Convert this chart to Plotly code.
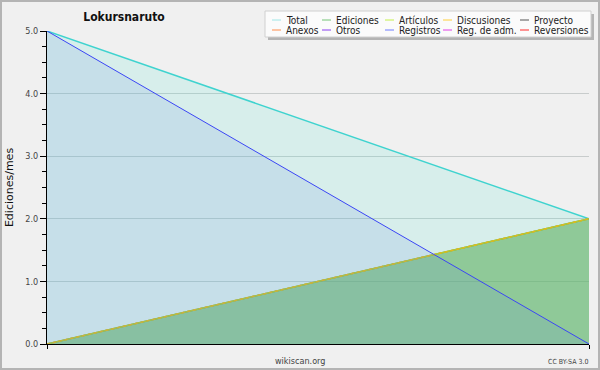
import plotly.graph_objects as go

# ---------------- data ----------------
months = [0, 1]
total = [5.0, 2.0]
ediciones = [0.0, 2.0]
articulos = [0.0, 2.0]
discusiones = [0.0, 2.0]
registros = [5.0, 0.0]

y_ticks = [0, 1, 2, 3, 4, 5]
y_tick_labels = ["0.0", "1.0", "2.0", "3.0", "4.0", "5.0"]

legend_names = [
    ["Total", "Anexos"],
    ["Ediciones", "Otros"],
    ["Artículos", "Registros"],
    ["Discusiones", "Reg. de adm."],
    ["Proyecto", "Reversiones"],
]
legend_colors = [
    ["#9ee6e6", "#ff8c4a"],
    ["#74c476", "#8a3ff0"],
    ["#c4f04a", "#6f7dff"],
    ["#ffcf3a", "#e23ee8"],
    ["#555555", "#ff2a2a"],
]

title_text = "Lokursnaruto"
y_title = "Ediciones/mes"
site_text = "wikiscan.org"
license_text = "CC BY-SA 3.0"

# ---------------- layout helpers ----------------
W, H = 600, 370
L, R, T, B = 47, 11, 31, 26
PW, PH = W - L - R, H - T - B
FONT = "DejaVu Sans Condensed, DejaVu Sans, sans-serif"


def px(x):
    return (x - L) / PW


def py(y):
    return (H - B - y) / PH


fig = go.Figure()

fig.add_trace(go.Scatter(
    x=months, y=total, name="Total", mode="lines",
    line=dict(color="#3fd3cf", width=1.5),
    fill="tozeroy", fillcolor="rgba(64,224,208,0.14)", showlegend=False))
fig.add_trace(go.Scatter(
    x=months, y=ediciones, name="Ediciones", mode="lines",
    line=dict(color="#5fb060", width=1.5),
    fill="tozeroy", fillcolor="rgba(95,177,96,0.6)", showlegend=False))
fig.add_trace(go.Scatter(
    x=months, y=articulos, name="Artículos", mode="lines",
    line=dict(color="#b8c830", width=1.5), showlegend=False))
fig.add_trace(go.Scatter(
    x=months, y=discusiones, name="Discusiones", mode="lines",
    line=dict(color="#e0b820", width=1.5, dash="dot"), showlegend=False))
fig.add_trace(go.Scatter(
    x=months, y=registros, name="Registros", mode="lines",
    line=dict(color="#3b46f5", width=1),
    fill="tozeroy", fillcolor="rgba(100,140,220,0.15)", showlegend=False))

shapes = []
annotations = []

# figure border
shapes.append(dict(type="rect", xref="paper", yref="paper",
                   x0=px(1), x1=px(599), y0=py(1), y1=py(369),
                   line=dict(color="#b4b4b4", width=2), fillcolor="rgba(0,0,0,0)",
                   layer="below"))

# legend box with shadow
shapes.append(dict(type="rect", xref="paper", yref="paper",
                   x0=px(268), x1=px(594), y0=py(14), y1=py(40),
                   line=dict(width=0), fillcolor="#b4b4b4"))
shapes.append(dict(type="rect", xref="paper", yref="paper",
                   x0=px(265), x1=px(591), y0=py(11), y1=py(37),
                   line=dict(color="#d0d0d0", width=1), fillcolor="#fbfbfb"))

col_text_x = [284, 334, 397, 455, 532]
row_y = [20, 30]
for c, (names, colors) in enumerate(zip(legend_names, legend_colors)):
    for r, (nm, colr) in enumerate(zip(names, colors)):
        tx = col_text_x[c]
        yy = row_y[r]
        shapes.append(dict(type="line", xref="paper", yref="paper",
                           x0=px(tx - 12), x1=px(tx - 3), y0=py(yy), y1=py(yy),
                           line=dict(color=colr, width=1)))
        annotations.append(dict(text=nm, xref="paper", yref="paper",
                                x=px(tx), y=py(yy), xanchor="left", yanchor="middle",
                                showarrow=False,
                                font=dict(family=FONT, size=10, color="#222222")))

annotations.append(dict(text=site_text, xref="paper", yref="paper",
                        x=px(300), y=py(361), xanchor="center", yanchor="middle",
                        showarrow=False, font=dict(family=FONT, size=9, color="#444444")))
annotations.append(dict(text=license_text, xref="paper", yref="paper",
                        x=px(590), y=py(362), xanchor="right", yanchor="middle",
                        showarrow=False, font=dict(family=FONT, size=7, color="#444444")))

fig.update_layout(
    width=W, height=H,
    margin=dict(l=L, r=R, t=T, b=B, pad=0, autoexpand=False),
    paper_bgcolor="#f0f0f0",
    plot_bgcolor="#f0f0f0",
    showlegend=False,
    title=dict(text=title_text, x=124 / W, y=1 - 16.5 / H, xref="container", yref="container",
               xanchor="center", yanchor="middle",
               font=dict(family=FONT, size=12, color="#111111", weight="bold")),
    shapes=shapes,
    annotations=annotations,
    xaxis=dict(range=[0, 1], showgrid=False, zeroline=False, automargin=False,
               showline=True, linecolor="#000000", linewidth=1,
               tickmode="array", tickvals=months, ticktext=["", ""],
               ticks="outside", ticklen=4, tickcolor="#000000"),
    yaxis=dict(range=[0, 5], zeroline=False, automargin=False,
               showline=True, linecolor="#000000", linewidth=1,
               tickmode="array", tickvals=y_ticks, ticktext=y_tick_labels,
               ticks="outside", ticklen=6, tickcolor="#000000",
               tickfont=dict(family=FONT, size=9, color="#444444"),
               showgrid=True, gridcolor="#c8cccc", gridwidth=1,
               minor=dict(dtick=0.25, ticks="outside", ticklen=4, tickcolor="#000000", showgrid=False),
               title=dict(text=y_title, standoff=9,
                          font=dict(family="DejaVu Sans, sans-serif", size=11, color="#111111"))),
)

fig.write_html("out.html", config={"displayModeBar": False},
               post_script="document.body.style.margin='0px';document.body.style.padding='0px';")
